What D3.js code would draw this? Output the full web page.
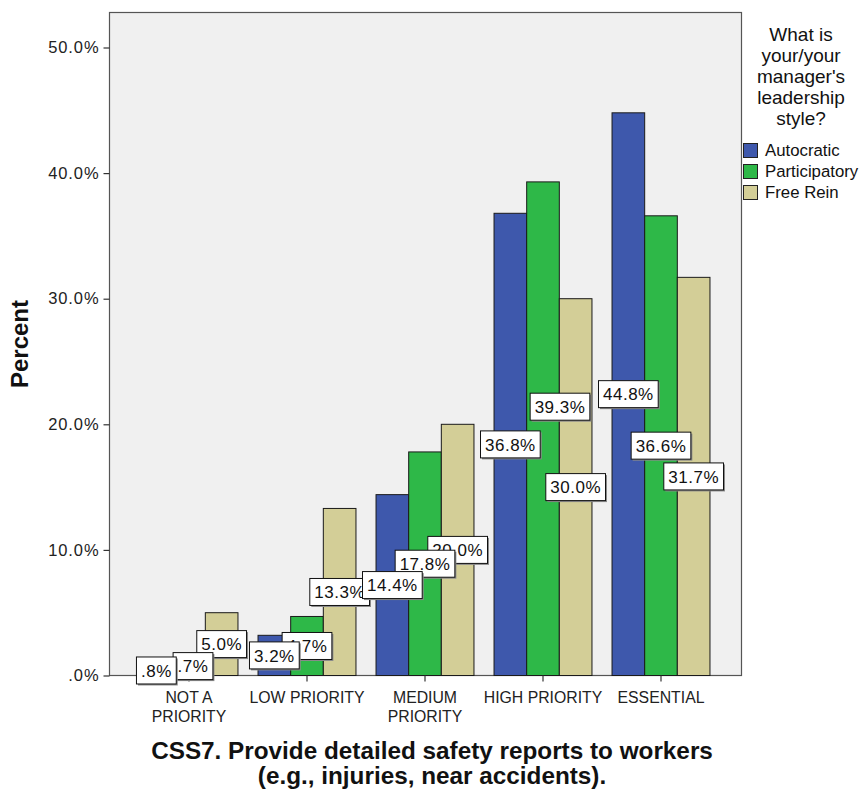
<!DOCTYPE html>
<html>
<head>
<meta charset="utf-8">
<script src="https://cdn.jsdelivr.net/npm/d3@7"></script>
<style>
  html, body { margin: 0; padding: 0; background: #ffffff; }
  svg { display: block; font-family: "Liberation Sans", Arial, sans-serif; }
</style>
</head>
<body>
<svg id="chart" width="861" height="789"></svg>
<script>
// Categories of the priority question
const categories = ["NOT A PRIORITY", "LOW PRIORITY", "MEDIUM PRIORITY", "HIGH PRIORITY", "ESSENTIAL"];
const categoryLines = [["NOT A", "PRIORITY"], ["LOW PRIORITY"], ["MEDIUM", "PRIORITY"], ["HIGH PRIORITY"], ["ESSENTIAL"]];

// Leadership style groups and their percentages per category
const seriesNames = ["Autocratic", "Participatory", "Free Rein"];
const autocratic = [0.8, 3.2, 14.4, 36.8, 44.8];
const participatory = [0.7, 4.7, 17.8, 39.3, 36.6];
const freeRein = [5.0, 13.3, 20.0, 30.0, 31.7];
const seriesColors = ["#3e58ac", "#2eb848", "#d3ce97"];

const yTicks = [0, 10, 20, 30, 40, 50];

const legendTitle = ["What is", "your/your", "manager's", "leadership", "style?"];
const xTitle = ["CSS7. Provide detailed safety reports to workers", "(e.g., injuries, near accidents)."];
const yTitle = "Percent";

const seriesValues = [autocratic, participatory, freeRein];

// Layout
const frame = { left: 109.5, right: 741.5, top: 12.5, bottom: 675.5 };
const svg = d3.select("#chart");

const x0 = d3.scaleBand().domain(categories).range([130, 720]).paddingInner(0.17).paddingOuter(0.085);
const x1 = d3.scaleBand().domain(seriesNames).range([0, x0.bandwidth()]).padding(0);
const y = d3.scaleLinear().domain([0, 50]).range([675.5, 47.5]);

const pct = v => {
  const s = v.toFixed(1);
  return (s.startsWith("0") ? s.slice(1) : s) + "%";
};

// Plot background
svg.append("rect")
  .attr("x", frame.left).attr("y", frame.top)
  .attr("width", frame.right - frame.left).attr("height", frame.bottom - frame.top)
  .attr("fill", "#f0f0f0").attr("stroke", "#555").attr("stroke-width", 1.2);

// Bars
const rows = [];
categories.forEach((c, i) => {
  seriesNames.forEach((s, j) => rows.push({ cat: c, ser: s, j, v: seriesValues[j][i] }));
});

svg.append("g").selectAll("rect").data(rows).join("rect")
  .attr("x", d => x0(d.cat) + x1(d.ser))
  .attr("y", d => y(d.v))
  .attr("width", x1.bandwidth())
  .attr("height", d => y(0) - y(d.v))
  .attr("fill", d => seriesColors[d.j])
  .attr("stroke", "#1a1a1a").attr("stroke-width", 1);

// Y axis
const yAxis = d3.axisLeft(y).tickValues(yTicks).tickSize(6).tickPadding(4).tickFormat(pct);
const gy = svg.append("g").attr("transform", `translate(${frame.left},0)`).call(yAxis);
gy.select(".domain").remove();
gy.selectAll(".tick line").attr("stroke", "#333").attr("stroke-width", 1.2);
gy.selectAll(".tick text").attr("font-size", 16.5).attr("fill", "#222")
  .attr("letter-spacing", 0.9)
  .attr("font-family", "Liberation Sans, Arial, sans-serif");

// X axis
const xAxis = d3.axisBottom(x0).tickSize(6).tickFormat("");
const gx = svg.append("g").attr("transform", `translate(0,${frame.bottom})`).call(xAxis);
gx.select(".domain").remove();
gx.selectAll(".tick line").attr("stroke", "#333").attr("stroke-width", 1.2);
gx.selectAll(".tick").each(function (d, i) {
  const t = d3.select(this).append("text")
    .attr("fill", "#222").attr("font-size", 15.8).attr("text-anchor", "middle")
    .attr("font-family", "Liberation Sans, Arial, sans-serif");
  categoryLines[i].forEach((line, k) => {
    t.append("tspan").attr("x", 0).attr("y", 27 + k * 19).text(line);
  });
});

// Value labels, placed at the middle of each bar; later series sit beneath earlier ones.
// A couple of labels are shifted so that crowded boxes stay legible.
const labelNudge = {
  "HIGH PRIORITY|Participatory": [17, -22],
  "NOT A PRIORITY|Participatory": [4, -5]
};
const labelG = svg.append("g");
const labelRows = rows.slice().sort((a, b) => b.j - a.j);
labelRows.forEach(d => {
  const nudge = labelNudge[d.cat + "|" + d.ser] || [0, 0];
  const cx = x0(d.cat) + x1(d.ser) + x1.bandwidth() / 2 + nudge[0];
  const cy = (y(d.v) + y(0)) / 2 + nudge[1];
  const g = labelG.append("g").attr("transform", `translate(${cx},${cy})`);
  const shadow = g.append("rect").attr("fill", "#8a8a8a");
  const box = g.append("rect").attr("fill", "#ffffff").attr("stroke", "#111").attr("stroke-width", 1);
  const txt = g.append("text").attr("text-anchor", "middle").attr("dy", "0.36em")
    .attr("font-size", 17).attr("letter-spacing", 0.5).attr("fill", "#111").text(pct(d.v));
  const w = txt.node().getComputedTextLength() + 9;
  const h = 27;
  box.attr("x", -w / 2).attr("y", -h / 2).attr("width", w).attr("height", h);
  shadow.attr("x", -w / 2 + 1.5).attr("y", -h / 2 + 1.5).attr("width", w).attr("height", h);
});

// Axis titles
svg.append("text")
  .attr("transform", `translate(28,${344}) rotate(-90)`)
  .attr("text-anchor", "middle").attr("font-weight", "bold").attr("font-size", 24)
  .attr("fill", "#111").text(yTitle);

const xt = svg.append("text").attr("text-anchor", "middle").attr("font-weight", "bold")
  .attr("font-size", 24.3).attr("fill", "#111");
xTitle.forEach((line, k) => {
  xt.append("tspan").attr("x", 432).attr("y", 759 + k * 25).text(line);
});

// Legend
const lg = svg.append("g");
legendTitle.forEach((line, k) => {
  lg.append("text").attr("x", 801).attr("y", 41 + k * 21).attr("text-anchor", "middle")
    .attr("font-size", 19).attr("fill", "#111").text(line);
});
seriesNames.forEach((s, j) => {
  const yy = 143 + j * 21;
  lg.append("rect").attr("x", 743.5).attr("y", yy + 0.5).attr("width", 14).attr("height", 14)
    .attr("fill", seriesColors[j]).attr("stroke", "#222").attr("stroke-width", 1);
  lg.append("text").attr("x", 765).attr("y", yy + 13).attr("font-size", 16.8)
    .attr("fill", "#111").text(s);
});
</script>
</body>
</html>
